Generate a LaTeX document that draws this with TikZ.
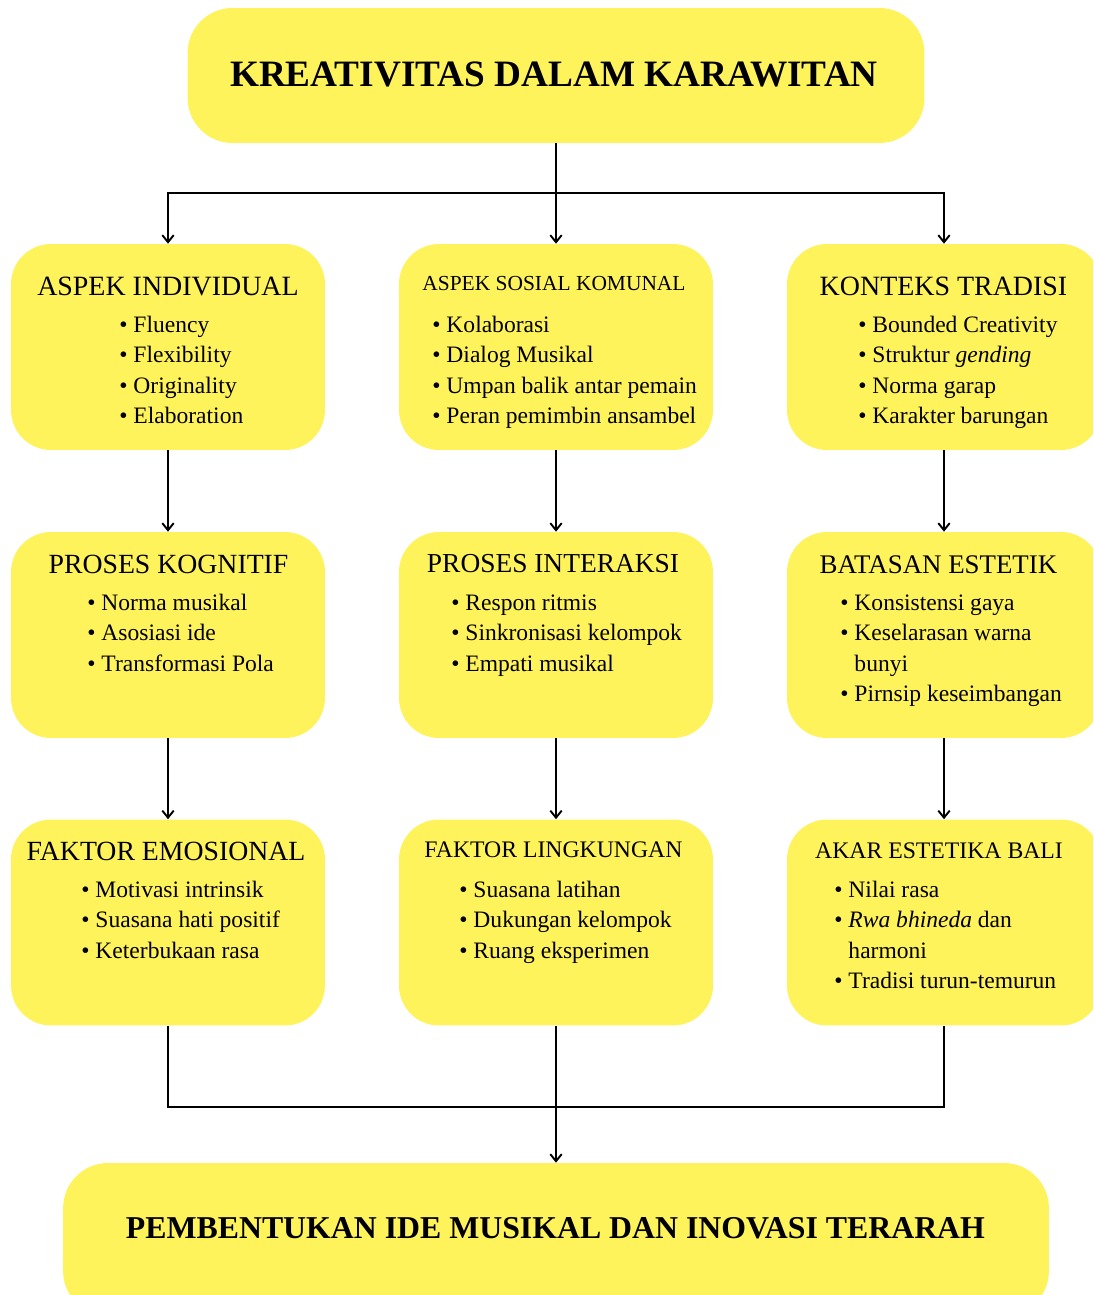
\documentclass[tikz,border=0pt]{standalone}
\usepackage{fontspec}
\setmainfont{Liberation Serif}
\usepackage{tikz}
\usetikzlibrary{arrows.meta}
\usetikzlibrary{positioning}
\definecolor{kuning}{RGB}{255,243,92}
\newcommand{\poin}{\textbullet\ }
\tikzset{
    kotak/.style={fill=kuning, rounded corners=0.8cm, minimum width=6.28cm, minimum height=4.12cm, inner sep=0pt},
    kepala/.style={anchor=base, inner sep=0pt},
    isi/.style={anchor=base west, inner sep=0pt, font=\fontsize{13.4}{16}\selectfont},
    garis/.style={line width=1.1pt},
    panah/.style={line width=1.1pt, -{Straight Barb[length=4pt,width=6.5pt]}}
}

\begin{document}
\begin{tikzpicture}[x=0.02cm, y=-0.02cm]
\useasboundingbox (0,0) rectangle (1093,1295);
\clip (0,0) rectangle (1093,1295);
\node[kotak, minimum width=14.74cm, minimum height=2.7cm, rounded corners=0.9cm] (puncak) at (556,75.5) {};
\node[kepala, font=\bfseries\fontsize{21.2}{25}\selectfont] (puncak-j) at (554,86) {KREATIVITAS DALAM KARAWITAN};
\foreach \n/\x/\y in {ind/168/347, sos/556/347, tra/944/347, kog/168/635, int/556/635, bat/944/635, emo/168/922.5, lin/556/922.5, aka/944/922.5}{
    \node[kotak] (\n) at (\x,\y) {};
}
\foreach \n/\x/\y/\s/\teks in {ind/168/295/15.9/ASPEK INDIVIDUAL, sos/554/290/12.2/ASPEK SOSIAL KOMUNAL, tra/943.5/295/15.9/KONTEKS TRADISI, kog/168.5/573/15.8/PROSES KOGNITIF, int/553/572/15.6/PROSES INTERAKSI, bat/938.5/573/15.3/BATASAN ESTETIK, emo/166/860/15.8/FAKTOR EMOSIONAL, lin/553.5/857/13.5/FAKTOR LINGKUNGAN, aka/939/858/13.5/AKAR ESTETIKA BALI}{
    \node[kepala, font=\fontsize{\s}{20}\selectfont] (\n-j) at (\x,\y) {\teks};
}
\foreach \n/\x/\y/\daftar in {
    ind/119/332/{\poin Fluency, \poin Flexibility, \poin Originality, \poin Elaboration},
    sos/432/332/{\poin Kolaborasi, \poin Dialog Musikal, \poin Umpan balik antar pemain, \poin Peran pemimbin ansambel},
    tra/858/332/{\poin Bounded Creativity, \poin Struktur \textit{gending}, \poin Norma garap, \poin Karakter barungan},
    kog/87/610/{\poin Norma musikal, \poin Asosiasi ide, \poin Transformasi Pola},
    int/451/610/{\poin Respon ritmis, \poin Sinkronisasi kelompok, \poin Empati musikal},
    bat/840/610/{\poin Konsistensi gaya, \poin Keselarasan warna, \hphantom{\poin}bunyi, \poin Pirnsip keseimbangan},
    emo/81/897/{\poin Motivasi intrinsik, \poin Suasana hati positif, \poin Keterbukaan rasa},
    lin/459/897/{\poin Suasana latihan, \poin Dukungan kelompok, \poin Ruang eksperimen},
    aka/834/897/{\poin Nilai rasa, \poin \textit{Rwa bhineda} dan, \hphantom{\poin}harmoni, \poin Tradisi turun-temurun}}{
    \foreach \teks [count=\i from 0] in \daftar
        \node[isi] (\n-\i) at (\x,\y+30.5*\i) {\teks};
}
\node[kotak, minimum width=19.72cm, minimum height=3.06cm, rounded corners=0.9cm] (hasil) at (556,1239.5) {};
\node[kepala, font=\bfseries\fontsize{18.1}{22}\selectfont] (hasil-j) at (555.5,1238) {PEMBENTUKAN IDE MUSIKAL DAN INOVASI TERARAH};
\coordinate (cabang) at (556,193);
\coordinate (gabung) at (556,1107);
\draw[garis] (puncak.south) -- (cabang);
\foreach \n in {ind,sos,tra}
    \draw[panah] (cabang) -| (\n.north);
\foreach \a/\b in {ind/kog, kog/emo, sos/int, int/lin, tra/bat, bat/aka}
    \draw[panah] (\a) -- (\b);
\draw[garis] (emo.south) |- (gabung) -| (aka.south);
\draw[panah] (lin) -- (hasil);
\end{tikzpicture}
\end{document}
